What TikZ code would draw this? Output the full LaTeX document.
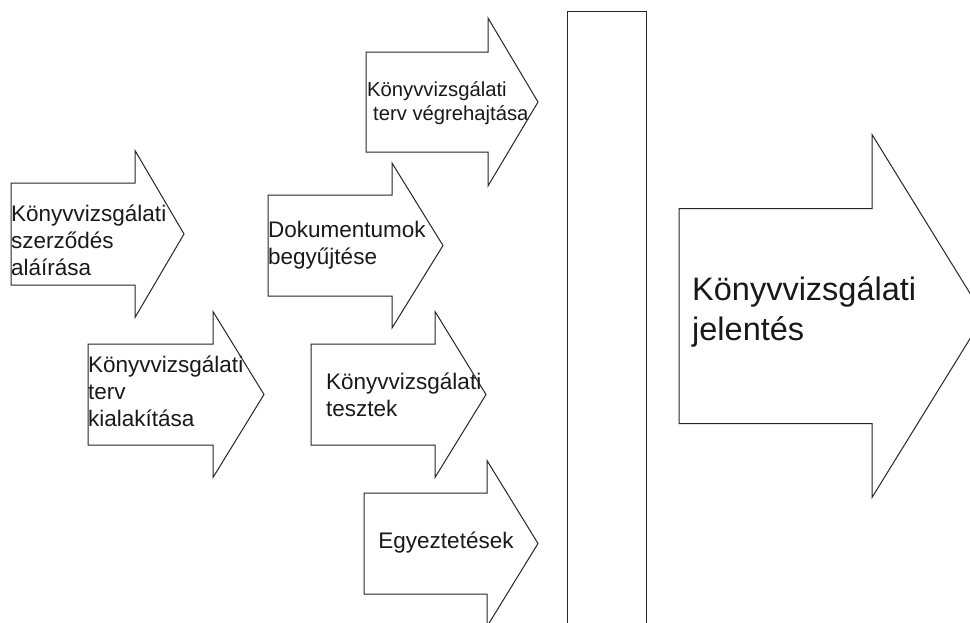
\documentclass[tikz,border=0pt]{standalone}
\usepackage{fontspec}
\setmainfont{Liberation Sans}
\tikzset{
  arrowline/.style={draw=black!85, line width=1pt, fill=white, line join=miter},
  smalltext/.style={font=\fontsize{22.5}{27}\selectfont, align=left, anchor=west, inner sep=0pt, text=black!90},
  bigtext/.style={font=\fontsize{32.5}{40}\selectfont, align=left, anchor=west, inner sep=0pt, text=black!90},
}
% block arrow: x0, head base x, tip x, mid y, body half-height, head half-height
\newcommand\blockarrow[6]{%
  \draw[arrowline] (#1,#4-#5) -- (#2,#4-#5) -- (#2,#4-#6) -- (#3,#4)
    -- (#2,#4+#6) -- (#2,#4+#5) -- (#1,#4+#5) -- cycle;}
\begin{document}
\begin{tikzpicture}[x=1pt, y=-1pt]
  \useasboundingbox[fill=white] (0,0) rectangle (970,622);

  % process steps
  \blockarrow{11}{135}{184}{234}{51}{83.5}
  \blockarrow{88}{213}{264}{394.5}{50.5}{83}
  \blockarrow{268}{392}{443}{245.5}{50.5}{82.5}
  \blockarrow{311}{435}{486}{394.5}{50.5}{83}
  \blockarrow{366}{488}{538}{102}{50}{84}
  \blockarrow{364}{487}{538}{543.5}{50.5}{83}

  % separator bar
  \draw[arrowline] (567,11) rectangle (646,640);

  % final report
  \blockarrow{679}{872}{984}{316}{107.5}{181.5}

  % labels
  \node[smalltext] (contract) at (11,240) {Könyvvizsgálati\\szerződés\\aláírása};
  \node[smalltext] (plan) at (88,391) {Könyvvizsgálati\\terv\\kialakítása};
  \node[smalltext] (docs) at (268,245) {Dokumentumok\\begyűjtése};
  \node[smalltext] (tests) at (326,395) {Könyvvizsgálati\\tesztek};
  \node[smalltext, font=\fontsize{20.25}{24.3}\selectfont] (exec) at (367,103)
    {Könyvvizsgálati\\\hspace*{6pt}terv végrehajtása};
  \node[smalltext, anchor=center] (recon) at (446,543) {Egyeztetések};
  \node[bigtext] (report) at (692,312) {Könyvvizsgálati\\jelentés};
\end{tikzpicture}
\end{document}
